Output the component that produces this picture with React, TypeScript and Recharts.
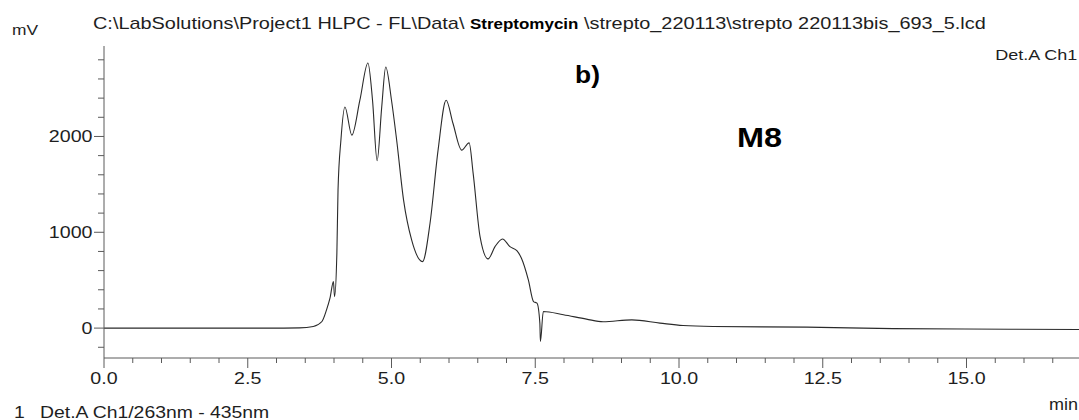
import React from 'react';
import { LineChart, Line, XAxis, YAxis } from 'recharts';

const timeMin = [
  0.0, 1.0, 2.0, 3.0, 3.4, 3.64, 3.79, 3.87, 3.93, 3.99, 4.01, 4.05, 4.07, 4.12, 4.19,
  4.31, 4.45, 4.59, 4.67, 4.75, 4.83, 4.9, 5.0, 5.09, 5.21, 5.35, 5.54, 5.67, 5.81,
  5.95, 6.07, 6.22, 6.35, 6.42, 6.54, 6.68, 6.8, 6.93, 7.06, 7.18, 7.26, 7.38, 7.47,
  7.53, 7.58, 7.59, 7.64, 7.99, 8.39, 8.68, 9.18, 9.67, 10.07, 10.59, 12.22, 13.72,
  14.97, 17.0,
];

const signalMv = [
  0, 0, 0, 0, 2, 17, 69, 190, 312, 485, 329, 784, 1441, 1961, 2308,
  2014, 2378, 2767, 2378, 1746, 2308, 2725, 2378, 1961, 1336, 920, 694, 1094, 1857,
  2378, 2135, 1857, 1933, 1615, 954, 722, 850, 930, 850, 808, 729, 503, 277,
  260, 52, -140, 173, 139, 94, 66, 86, 52, 27, 17, 10, -5,
  -10, -15,
];

const xTicks = [
  0, 0.5, 1, 1.5, 2, 2.5, 3, 3.5, 4, 4.5, 5, 5.5, 6, 6.5, 7, 7.5, 8, 8.5, 9, 9.5,
  10, 10.5, 11, 11.5, 12, 12.5, 13, 13.5, 14, 14.5, 15, 15.5, 16, 16.5, 17,
];
const xMajorTicks = [0, 2.5, 5, 7.5, 10, 12.5, 15];
const yTicks = [
  -200, 0, 200, 400, 600, 800, 1000, 1200, 1400, 1600, 1800, 2000, 2200, 2400, 2600, 2800,
];
const yMajorTicks = [0, 1000, 2000];

const data = timeMin.map((t, i) => ({ t, v: signalMv[i] }));

const FONT = '"Liberation Sans", Arial, sans-serif';
const AXIS = '#5a5a5a';
const TEXT = '#1e1e1e';
const S = 1.19;

const XTick = (props: any) => {
  const { x, y, payload } = props;
  const v = payload.value;
  const major = xMajorTicks.includes(v);
  return (
    <g>
      <line x1={x} x2={x} y1={y} y2={y + (major ? 10 : 5)} stroke={AXIS} strokeWidth={1} />
      {major && (
        <text
          transform={`translate(${x},${y + 25.5}) scale(${S},1)`}
          textAnchor="middle"
          fontSize={16.5}
          fontFamily={FONT}
          fill={TEXT}
        >
          {v.toFixed(1)}
        </text>
      )}
    </g>
  );
};

const YTick = (props: any) => {
  const { x, y, payload } = props;
  const v = payload.value;
  const major = yMajorTicks.includes(v);
  return (
    <g>
      <line x1={x} x2={x - (major ? 10 : 6)} y1={y} y2={y} stroke={AXIS} strokeWidth={1} />
      {major && (
        <text
          transform={`translate(${x - 11.5},${y + 6}) scale(${S},1)`}
          textAnchor="end"
          fontSize={16.5}
          fontFamily={FONT}
          fill={TEXT}
        >
          {v}
        </text>
      )}
    </g>
  );
};

const abs = (style: React.CSSProperties, sx: number, origin = 'left top'): React.CSSProperties => ({
  position: 'absolute',
  whiteSpace: 'nowrap',
  fontFamily: FONT,
  color: TEXT,
  lineHeight: 1,
  transform: `scaleX(${sx})`,
  transformOrigin: origin,
  ...style,
});

export default function App() {
  return (
    <div
      style={{
        position: 'fixed',
        left: 0,
        top: 0,
        width: 1079,
        height: 420,
        overflow: 'hidden',
        background: '#fff',
      }}
    >
      <LineChart
        width={1100}
        height={420}
        data={data}
        margin={{ top: 46, right: 18.5, bottom: 32, left: 44 }}
      >
        <XAxis
          dataKey="t"
          type="number"
          domain={[0, 17]}
          ticks={xTicks}
          interval={0}
          tickSize={0}
          tickMargin={0}
          tickLine={false}
          axisLine={{ stroke: AXIS }}
          tick={<XTick />}
          height={30}
          allowDataOverflow
        />
        <XAxis
          xAxisId="top"
          orientation="top"
          dataKey="t"
          type="number"
          domain={[0, 17]}
          tick={false}
          tickLine={false}
          axisLine={{ stroke: '#333' }}
          height={0}
        />
        <YAxis
          type="number"
          domain={[-312, 2944]}
          ticks={yTicks}
          interval={0}
          tickSize={0}
          tickMargin={0}
          tickLine={false}
          axisLine={{ stroke: AXIS }}
          tick={<YTick />}
          width={60}
          allowDataOverflow
        />
        <Line
          dataKey="v"
          type="monotone"
          stroke="#2a2a2a"
          strokeWidth={1.1}
          dot={false}
          isAnimationActive={false}
        />
      </LineChart>

      <div style={abs({ left: 93, top: 15, fontSize: 17 }, 1.17)}>
        C:\LabSolutions\Project1 HLPC - FL\Data\{' '}
        <span style={{ fontWeight: 'bold', fontSize: 14.5, color: '#000' }}>Streptomycin</span>
        {' '}\strepto_220113\strepto 220113bis_693_5.lcd
      </div>
      <div style={abs({ left: 12, top: 23, fontSize: 14 }, 1.24)}>mV</div>
      <div style={abs({ right: 2, top: 47, fontSize: 15 }, 1.2, 'right top')}>Det.A Ch1</div>
      <div style={abs({ left: 575, top: 63, fontSize: 24, fontWeight: 'bold', color: '#000' }, 1.1)}>b)</div>
      <div style={abs({ left: 737, top: 125, fontSize: 27, fontWeight: 'bold', color: '#000' }, 1.2)}>M8</div>
      <div style={abs({ left: 1049, top: 397, fontSize: 16 }, 1.125)}>min</div>
      <div style={abs({ left: 14, top: 405, fontSize: 16 }, 1.21)}>1</div>
      <div style={abs({ left: 40, top: 405, fontSize: 16 }, 1.21)}>Det.A Ch1/263nm - 435nm</div>
    </div>
  );
}
